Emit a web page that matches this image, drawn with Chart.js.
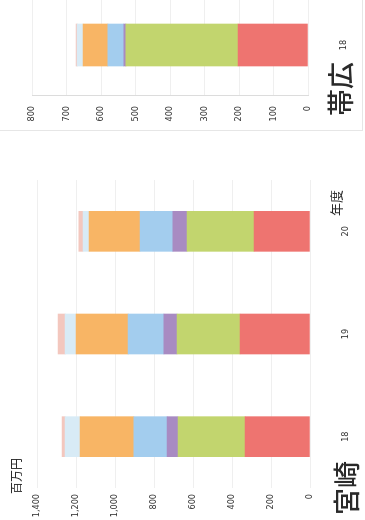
<!DOCTYPE html>
<html>
<head>
<meta charset="utf-8">
<script src="https://cdn.jsdelivr.net/npm/chart.js@4"></script>
<style>
  html, body { margin: 0; padding: 0; background: #fff; }
  body { width: 365px; height: 520px; overflow: hidden; position: relative; }
  #page {
    position: absolute; left: 0; top: 0; width: 520px; height: 365px;
    transform-origin: 0 0; transform: translate(0, 520px) rotate(-90deg);
    overflow: hidden; background: #fff;
  }
  .box { position: absolute; }
  .txt { position: absolute; white-space: nowrap; line-height: 1; color: #2a2a2a;
         font-family: 'Noto Sans CJK JP', sans-serif; }
  .line { position: absolute; background: #e6e6e6; }
</style>
</head>
<body>
<div id="page">
  <div class="box" style="left:0;top:0;width:370px;height:365px"><canvas id="miyazaki" width="370" height="365"></canvas></div>
  <div class="box" style="left:390px;top:0;width:136px;height:365px"><canvas id="obihiro" width="136" height="365"></canvas></div>
  <div class="line" style="left:389px;top:0;width:1px;height:362px"></div>
  <div class="line" style="left:389px;top:362px;width:140px;height:1px"></div>
  <div class="txt" style="left:26px;top:10px;font-size:12px">百万円</div>
  <div class="txt" style="left:5px;top:332px;font-size:27px;font-weight:500">宮崎</div>
  <div class="txt" style="left:304px;top:329px;font-size:13px">年度</div>
  <div class="txt" style="left:404px;top:326px;font-size:27px;font-weight:500">帯広</div>
</div>
<script>
const colorVar = {
    red: '#EE7470',
    green: '#C2D56E',
    purple: '#A88BC2',
    blue: '#A3CDEE',
    orange: '#F8B565',
    paleBlue: '#D8EBF6',
    pink: '#F3C7BE',
}
const segColors = [colorVar.red, colorVar.green, colorVar.purple, colorVar.blue, colorVar.orange, colorVar.paleBlue, colorVar.pink]

// 宮崎
const miyazakiYears = ['18', '19', '20']
const miyazakiRed = [333, 359, 287]
const miyazakiGreen = [344, 323, 344]
const miyazakiPurple = [56, 67, 72]
const miyazakiBlue = [170, 184, 169]
const miyazakiOrange = [276, 267, 261]
const miyazakiPaleBlue = [77, 56, 31]
const miyazakiPink = [16, 36, 21]
const miyazakiTicks = [0, 200, 400, 600, 800, 1000, 1200, 1400]

// 帯広
const obihiroYears = ['18']
const obihiroRed = [203]
const obihiroGreen = [325]
const obihiroPurple = [6]
const obihiroBlue = [46]
const obihiroOrange = [72]
const obihiroPaleBlue = [17]
const obihiroPink = [3]
const obihiroTicks = [0, 100, 200, 300, 400, 500, 600, 700, 800]

const tickFont = { family: "'DejaVu Sans Condensed', 'DejaVu Sans', sans-serif", size: 9 }

function makeSets(series, thickness) {
    return series.map((d, i) => ({
        data: d,
        backgroundColor: segColors[i],
        borderWidth: 0,
        barThickness: thickness,
    }))
}

function drawStack(el, labels, series, ticks, opts) {
    new Chart(el, {
        type: 'bar',
        data: { labels: labels, datasets: makeSets(series, opts.thickness) },
        options: {
            responsive: false,
            animation: false,
            layout: { padding: { top: opts.top, right: opts.right, left: 0, bottom: 0 } },
            plugins: { legend: { display: false }, tooltip: { enabled: false } },
            scales: {
                x: {
                    stacked: true,
                    grid: { display: false },
                    border: { display: false },
                    ticks: { padding: 22, font: tickFont, color: '#333' },
                    afterFit: s => { s.height = opts.xh },
                },
                y: {
                    stacked: true,
                    min: ticks[0],
                    max: ticks[ticks.length - 1],
                    afterBuildTicks: s => { s.ticks = ticks.map(v => ({ value: v })) },
                    grid: { color: '#efefef', drawTicks: false },
                    border: { display: opts.axisLine, color: '#dcdcdc' },
                    ticks: { padding: opts.pad, font: tickFont, color: '#333' },
                    afterFit: s => { s.width = opts.yw },
                },
            },
        },
    })
}

drawStack(document.getElementById('miyazaki'), miyazakiYears,
    [miyazakiRed, miyazakiGreen, miyazakiPurple, miyazakiBlue, miyazakiOrange, miyazakiPaleBlue, miyazakiPink],
    miyazakiTicks, { thickness: 40, top: 37, right: 30, xh: 55, yw: 32, pad: 6, axisLine: false })

drawStack(document.getElementById('obihiro'), obihiroYears,
    [obihiroRed, obihiroGreen, obihiroPurple, obihiroBlue, obihiroOrange, obihiroPaleBlue, obihiroPink],
    obihiroTicks, { thickness: 42, top: 32, right: 0, xh: 57, yw: 34, pad: 10, axisLine: true })
</script>
</body>
</html>
